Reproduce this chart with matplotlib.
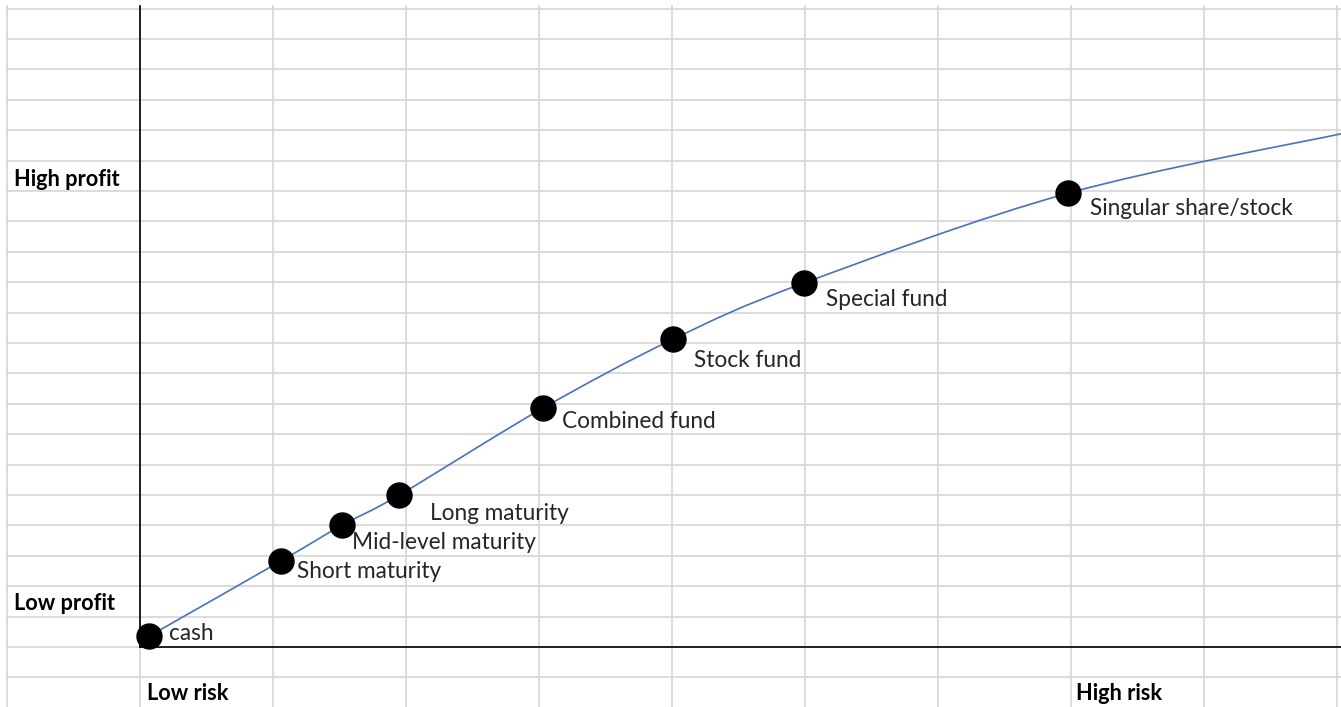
import numpy as np
import matplotlib.pyplot as plt
from matplotlib.path import Path
from matplotlib.patches import PathPatch

# risk measured in sheet columns, profit in sheet rows (origin = axis corner)
names = ["cash", "Short maturity", "Mid-level maturity", "Long maturity",
         "Combined fund", "Stock fund", "Special fund", "Singular share/stock"]
risk = [0.07, 1.06, 1.52, 1.95, 3.03, 4.01, 4.99, 6.98]
profit = [0.36, 2.83, 4.01, 5.00, 7.86, 10.13, 11.97, 14.93]

# curve carries on past the last marker to the sheet edge
risk_tail = 9.05
profit_tail = 16.9

# label offsets in pixels (dx, dy) from each marker
label_off = [(20, 3), (16, -11), (10, -17), (31, -18),
             (19, -13), (21, -21), (22, -16), (22, -15)]

W, H = 1341, 707
col_w, row_h = 133.0, 30.4
x0_px, y0_px = 140, 647

fig = plt.figure(figsize=(W / 100, H / 100), dpi=100)
ax = fig.add_axes([0, 0, 1, 1])
xmin, xmax = -x0_px / col_w, (W - x0_px) / col_w
ymin, ymax = -(H - y0_px) / row_h, y0_px / row_h
ax.set_xlim(xmin, xmax)
ax.set_ylim(ymin, ymax)
ax.axis("off")

# spreadsheet cell grid
grid_c = "#d6d6d6"
top = 21.08
for c in range(-1, 10):
    ax.plot([c, c], [ymin, top], color=grid_c, lw=1.2, zorder=0)
for r in range(-1, 22):
    ax.plot([-1, xmax], [r, r], color=grid_c, lw=1.2, zorder=0)

# axes lines
ax.plot([0, 0], [0, top + 0.02], color="black", lw=1.2, zorder=1)
ax.plot([0, xmax], [0, 0], color="black", lw=1.2, zorder=1)

# smoothed line (Catmull-Rom as cubic Bezier)
px = np.array(risk + [risk_tail])
py = np.array(profit + [profit_tail])
P = np.column_stack([px, py])
verts = [P[0]]
codes = [Path.MOVETO]
n = len(P)
for i in range(n - 1):
    p0 = P[i - 1] if i > 0 else P[i]
    p1, p2 = P[i], P[i + 1]
    p3 = P[i + 2] if i + 2 < n else P[i + 1]
    c1 = p1 + (p2 - p0) / 6.0
    c2 = p2 - (p3 - p1) / 6.0
    verts += [c1, c2, p2]
    codes += [Path.CURVE4] * 3
ax.add_patch(PathPatch(Path(verts, codes), fill=False, edgecolor="#4472c4",
                       lw=1.2, zorder=2))

ax.plot(risk, profit, "o", color="black", markersize=18, zorder=3)

font = "Lato"
for name, x, y, (dx, dy) in zip(names, risk, profit, label_off):
    ax.annotate(name, (x, y), xytext=(dx, dy), textcoords="offset pixels",
                ha="left", va="center", fontsize=16.3, color="#262626",
                family=font, zorder=4)

bold_kw = dict(fontsize=15.7, fontweight="bold", color="black", family=font,
               va="center", ha="left")
ax.text(-1 + 7 / col_w, (y0_px - 180) / row_h, "High profit", **bold_kw)
ax.text(-1 + 7 / col_w, (y0_px - 603) / row_h, "Low profit", **bold_kw)
ax.text(7 / col_w, (y0_px - 693) / row_h, "Low risk", **bold_kw)
ax.text(7 + 0.04, (y0_px - 693) / row_h, "High risk", **bold_kw)

fig.savefig("out.png", dpi=100)
